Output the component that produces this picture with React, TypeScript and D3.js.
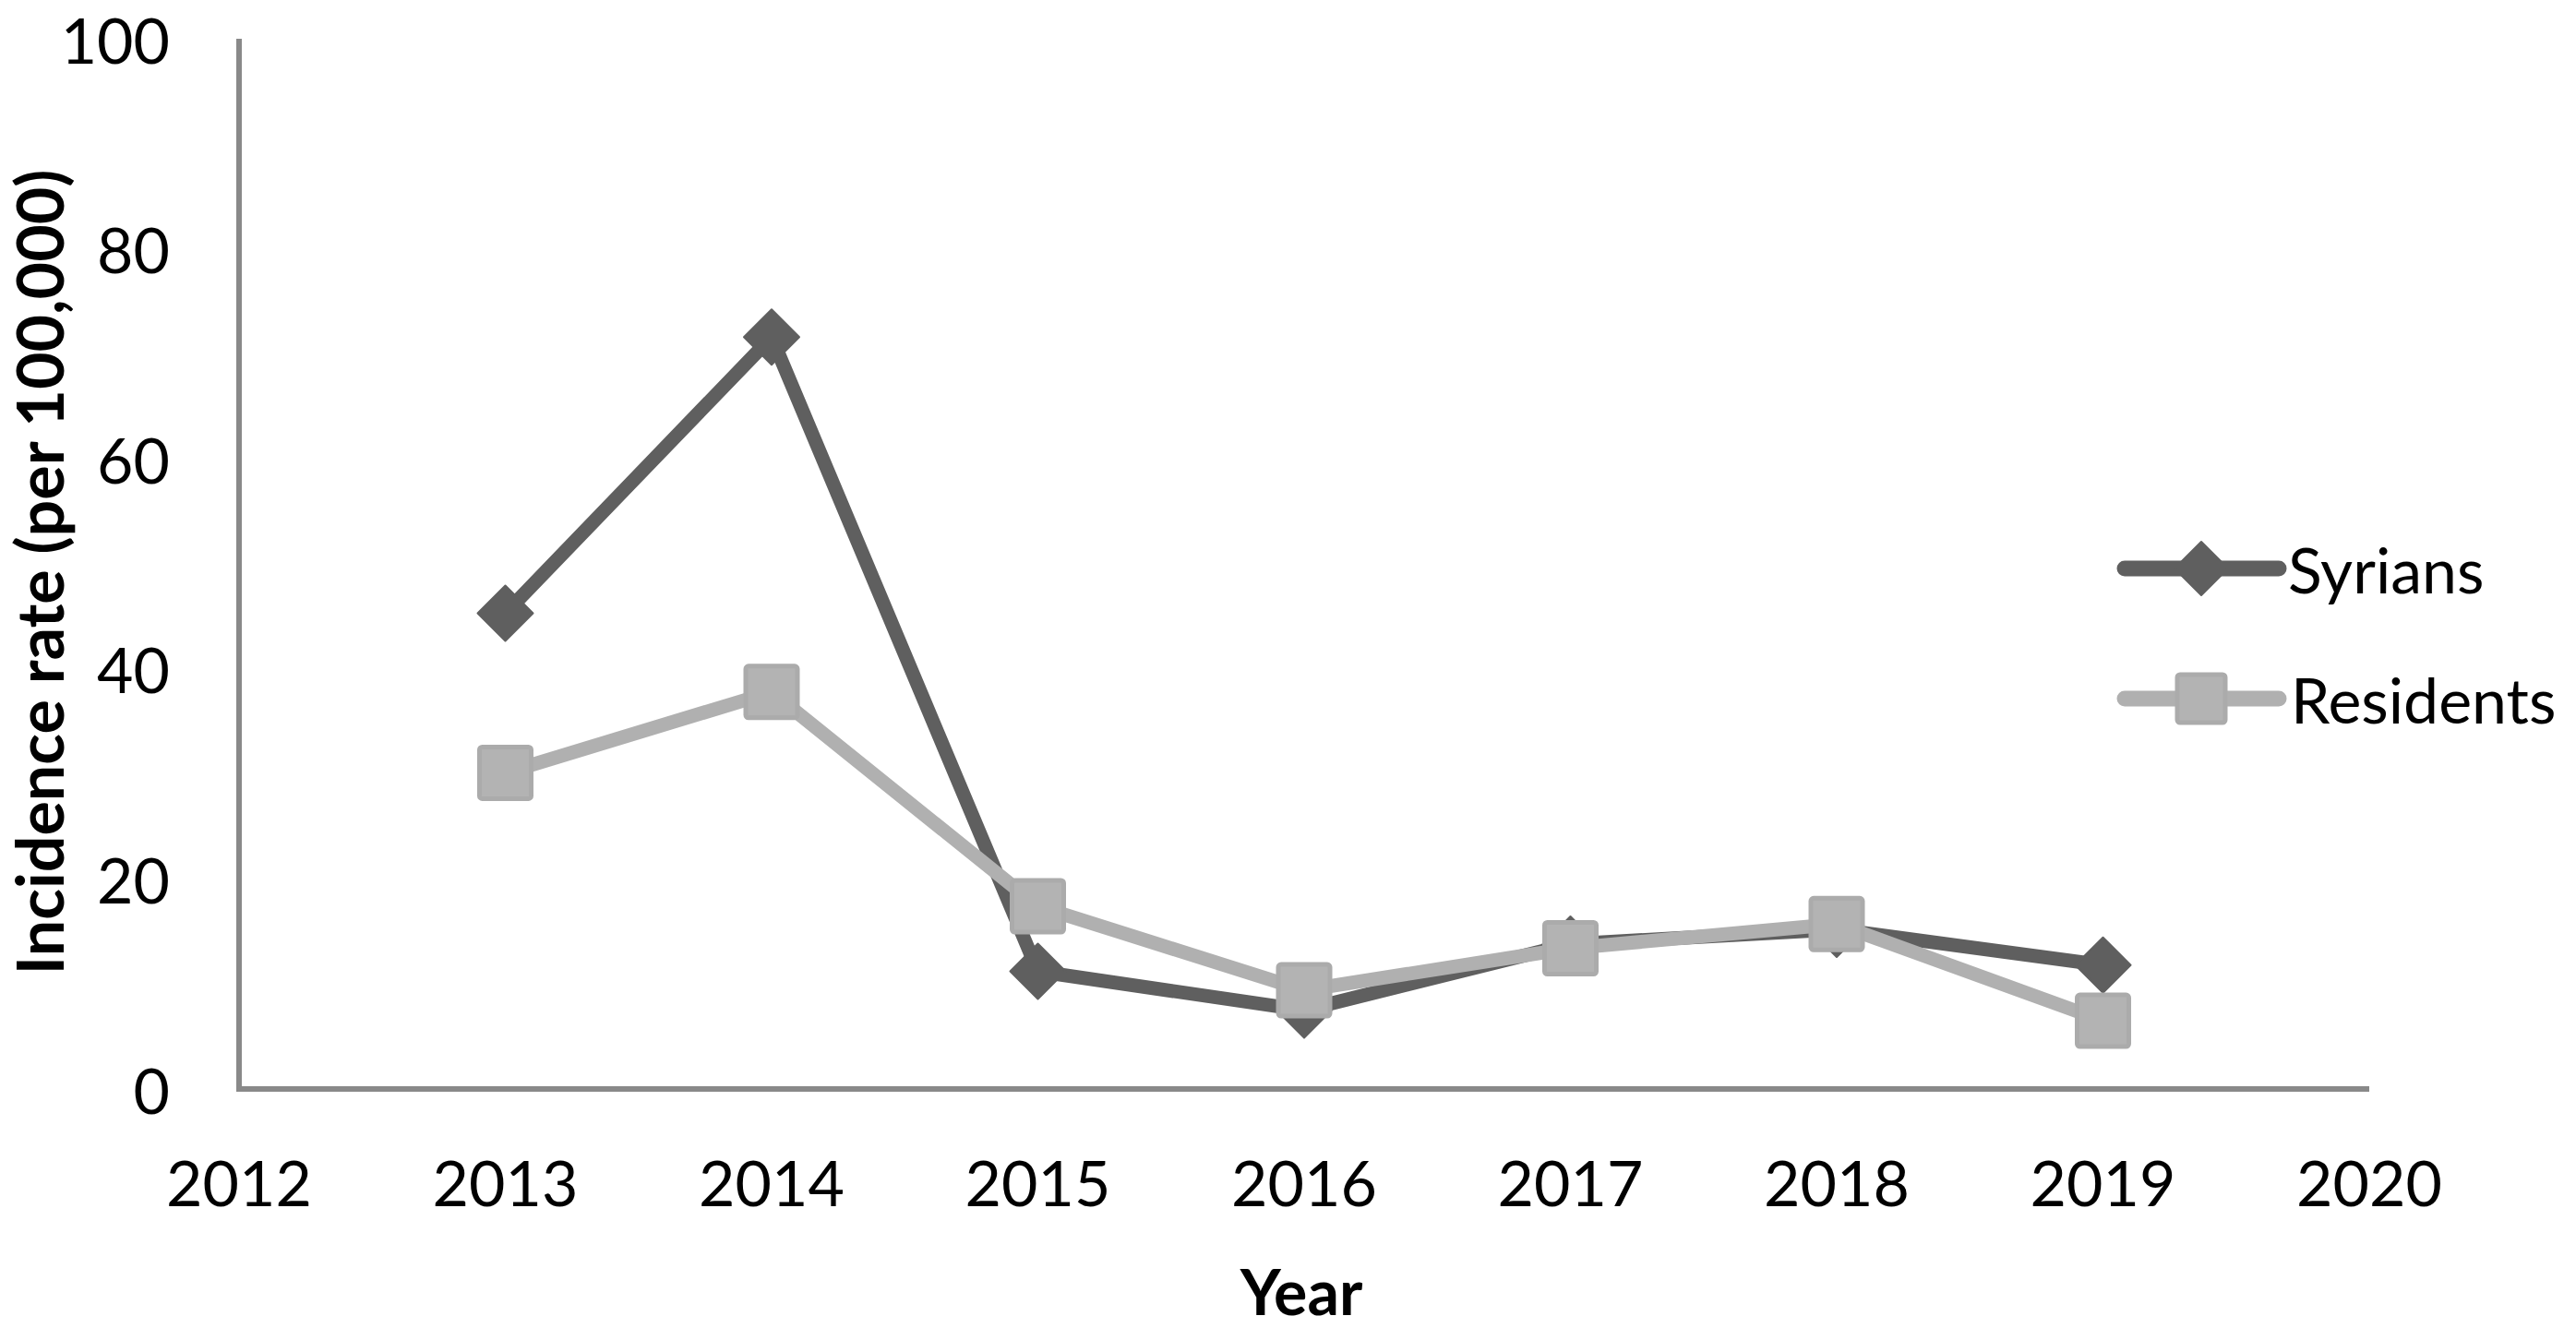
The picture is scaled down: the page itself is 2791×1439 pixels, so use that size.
import React from "react";
import * as d3 from "d3";

const years = [2013, 2014, 2015, 2016, 2017, 2018, 2019];
const syrians = [45.3, 71.6, 11.2, 7.5, 13.8, 15.2, 11.8];
const residents = [30.1, 37.8, 17.4, 9.4, 13.4, 15.7, 6.5];
const xTicks = [2012, 2013, 2014, 2015, 2016, 2017, 2018, 2019, 2020];
const yTicks = [0, 20, 40, 60, 80, 100];
const seriesNames = ["Syrians", "Residents"];

const W = 2791;
const H = 1439;
const FONT = "Lato, 'Open Sans', sans-serif";

export default function App() {
  const x = d3.scaleLinear().domain([2012, 2020]).range([259, 2567]);
  const y = d3.scaleLinear().domain([0, 100]).range([1180, 42]);
  const line = d3
    .line<number>()
    .x((_, i) => x(years[i]))
    .y((d) => y(d));

  const darkCol = "#5f5f5f";
  const lightCol = "#b0b0b0";
  const axisCol = "#898989";

  const diamond = (cx: number, cy: number, r: number) =>
    `M${cx},${cy - r}L${cx + r},${cy}L${cx},${cy + r}L${cx - r},${cy}Z`;

  const legendX0 = 2302;
  const legendX1 = 2469;
  const legendMid = 2385;
  const legendY = [616, 757];

  return (
    <svg
      width={W}
      height={H}
      style={{ position: "absolute", left: 0, top: 0, background: "#fff" }}
      xmlns="http://www.w3.org/2000/svg"
    >
      <rect x={0} y={0} width={W} height={H} fill="#fff" />
      {/* axes */}
      <line x1={x(2012)} x2={x(2012)} y1={y(100)} y2={y(0) + 3} stroke={axisCol} strokeWidth={6} />
      <line x1={x(2012) - 3} x2={x(2020)} y1={y(0)} y2={y(0)} stroke={axisCol} strokeWidth={6} />

      {/* y ticks */}
      {yTicks.map((t) => (
        <text
          key={t}
          x={184}
          y={y(t)}
          textAnchor="end"
          dominantBaseline="central"
          fontFamily={FONT}
          fontSize={68}
          fill="#000"
        >
          {t}
        </text>
      ))}
      {/* x ticks */}
      {xTicks.map((t) => (
        <text
          key={t}
          x={x(t)}
          y={1280}
          textAnchor="middle"
          dominantBaseline="central"
          fontFamily={FONT}
          fontSize={68}
          fill="#000"
        >
          {t}
        </text>
      ))}

      {/* axis titles */}
      <text
        x={1410}
        y={1398}
        textAnchor="middle"
        dominantBaseline="central"
        fontFamily={FONT}
        fontWeight="bold"
        fontSize={68}
      >
        Year
      </text>
      <text
        transform={`translate(42, 620) rotate(-90)`}
        textAnchor="middle"
        dominantBaseline="central"
        fontFamily={FONT}
        fontWeight="bold"
        fontSize={70}
      >
        Incidence rate (per 100,000)
      </text>

      {/* Syrians */}
      <path d={line(syrians) || ""} fill="none" stroke={darkCol} strokeWidth={15} strokeLinejoin="round" />
      {syrians.map((v, i) => (
        <path key={i} d={diamond(x(years[i]), y(v), 30)} fill={darkCol} stroke={darkCol} strokeWidth={2} strokeLinejoin="round" />
      ))}

      {/* Residents */}
      <path d={line(residents) || ""} fill="none" stroke={lightCol} strokeWidth={15} strokeLinejoin="round" />
      {residents.map((v, i) => (
        <rect
          key={i}
          x={x(years[i]) - 28}
          y={y(v) - 28}
          width={56}
          height={56}
          rx={3}
          fill="#b3b3b3"
          stroke="#ababab"
          strokeWidth={5}
        />
      ))}

      {/* legend */}
      <line x1={legendX0} x2={legendX1} y1={legendY[0]} y2={legendY[0]} stroke={darkCol} strokeWidth={17} strokeLinecap="round" />
      <path d={diamond(legendMid, legendY[0], 29)} fill={darkCol} stroke={darkCol} strokeWidth={2} strokeLinejoin="round" />
      <text x={2479} y={legendY[0]} dominantBaseline="central" fontFamily={FONT} fontSize={68}>
        {seriesNames[0]}
      </text>
      <line x1={legendX0} x2={legendX1} y1={legendY[1]} y2={legendY[1]} stroke={lightCol} strokeWidth={17} strokeLinecap="round" />
      <rect x={legendMid - 26} y={legendY[1] - 26} width={52} height={52} rx={3} fill="#b3b3b3" stroke="#ababab" strokeWidth={5} />
      <text x={2482} y={legendY[1]} dominantBaseline="central" fontFamily={FONT} fontSize={68}>
        {seriesNames[1]}
      </text>
    </svg>
  );
}
